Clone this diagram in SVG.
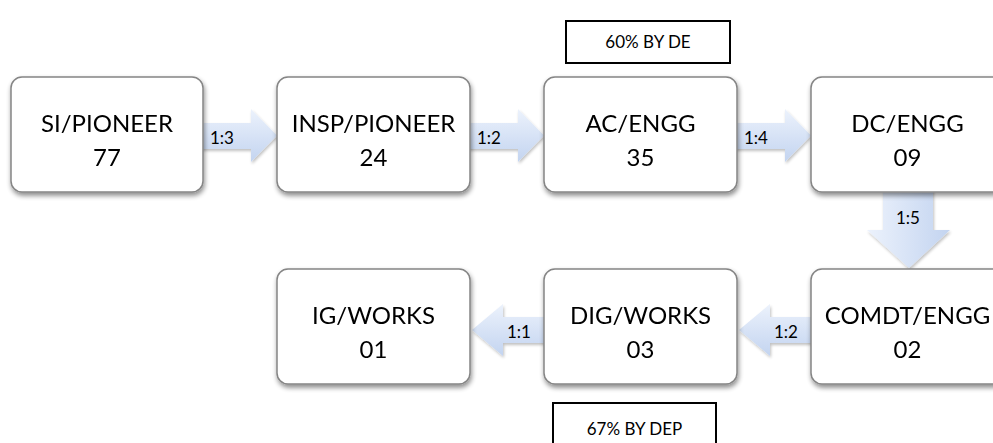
<svg xmlns="http://www.w3.org/2000/svg" width="993" height="443" viewBox="0 0 993 443">
  <style>
    .node rect { fill: #ffffff; stroke: #858585; stroke-width: 1.5; }
    .title { font-family: Lato, "Liberation Sans", sans-serif; font-size: 24px; fill: #000; text-anchor: middle; }
    .lbl { font-family: Lato, "Liberation Sans", sans-serif; font-size: 17px; fill: #000; text-anchor: middle; dominant-baseline: central; }
    .note rect { fill: #ffffff; stroke: #000; stroke-width: 2; }
    .note text { font-family: Lato, "Liberation Sans", sans-serif; font-size: 17px; fill: #000; text-anchor: middle; dominant-baseline: central; }
    .arrow { fill: url(#arrowFill); filter: url(#arrowShadow); }
  </style>
  <defs>
    <linearGradient id="arrowFill" x1="0" y1="0" x2="0" y2="1">
      <stop offset="0" stop-color="#ecf2fc"/>
      <stop offset="1" stop-color="#c3d4f0"/>
    </linearGradient>
    <linearGradient id="arrowFillV" x1="0" y1="0" x2="1" y2="0">
      <stop offset="0" stop-color="#ecf2fc"/>
      <stop offset="1" stop-color="#c3d4f0"/>
    </linearGradient>
    <filter id="boxShadow" x="-10%" y="-10%" width="130%" height="130%">
      <feGaussianBlur in="SourceAlpha" stdDeviation="2.5"/>
      <feOffset dx="1" dy="3" result="b"/>
      <feComponentTransfer><feFuncA type="linear" slope="0.45"/></feComponentTransfer>
      <feMerge><feMergeNode/><feMergeNode in="SourceGraphic"/></feMerge>
    </filter>
    <filter id="arrowShadow" x="-10%" y="-20%" width="130%" height="150%">
      <feGaussianBlur in="SourceAlpha" stdDeviation="1.5"/>
      <feOffset dx="1" dy="2" result="b"/>
      <feComponentTransfer><feFuncA type="linear" slope="0.25"/></feComponentTransfer>
      <feMerge><feMergeNode/><feMergeNode in="SourceGraphic"/></feMerge>
    </filter>
  </defs>

  <!-- connectors: block arrows with ratio labels -->
  <g id="connectors">
    <g id="c-si-insp">
      <path class="arrow" d="M196,123 H251 V109 L277,135.5 L251,162 V149 H196 Z"/>
      <text class="lbl" x="222" y="137">1:3</text>
    </g>
    <g id="c-insp-ac">
      <path class="arrow" d="M463,123 H518 V109 L544,135.5 L518,162 V149 H463 Z"/>
      <text class="lbl" x="489" y="137">1:2</text>
    </g>
    <g id="c-ac-dc">
      <path class="arrow" d="M730,123 H785 V109 L811,135.5 L785,162 V149 H730 Z"/>
      <text class="lbl" x="756" y="137">1:4</text>
    </g>
    <g id="c-dc-comdt">
      <path class="arrow" style="fill:url(#arrowFillV)" d="M883,185 H933 V230 H950 L909,268 L867,230 H883 Z"/>
      <text class="lbl" x="908" y="217">1:5</text>
    </g>
    <g id="c-comdt-dig">
      <path class="arrow" d="M818,317 H770 V304 L739,330 L770,356 V343 H818 Z"/>
      <text class="lbl" x="786" y="331">1:2</text>
    </g>
    <g id="c-dig-ig">
      <path class="arrow" d="M551,317 H503 V304 L472,330 L503,356 V343 H551 Z"/>
      <text class="lbl" x="519" y="331">1:1</text>
    </g>
  </g>

  <!-- nodes -->
  <g id="n-si" class="node" filter="url(#boxShadow)">
    <rect x="11" y="77" width="192" height="115" rx="11"/>
    <text class="title" x="107" y="132">SI/PIONEER</text>
    <text class="title" x="107" y="166">77</text>
  </g>
  <g id="n-insp" class="node" filter="url(#boxShadow)">
    <rect x="277" y="77" width="193" height="115" rx="11"/>
    <text class="title" x="373.5" y="132">INSP/PIONEER</text>
    <text class="title" x="373.5" y="166">24</text>
  </g>
  <g id="n-ac" class="node" filter="url(#boxShadow)">
    <rect x="544" y="77" width="193" height="115" rx="11"/>
    <text class="title" x="640.5" y="132">AC/ENGG</text>
    <text class="title" x="640.5" y="166">35</text>
  </g>
  <g id="n-dc" class="node" filter="url(#boxShadow)">
    <rect x="811" y="77" width="193" height="115" rx="11"/>
    <text class="title" x="907.5" y="132">DC/ENGG</text>
    <text class="title" x="907.5" y="166">09</text>
  </g>
  <g id="n-comdt" class="node" filter="url(#boxShadow)">
    <rect x="811" y="269" width="193" height="115" rx="11"/>
    <text class="title" x="907.5" y="324">COMDT/ENGG</text>
    <text class="title" x="907.5" y="358">02</text>
  </g>
  <g id="n-dig" class="node" filter="url(#boxShadow)">
    <rect x="544" y="269" width="193" height="115" rx="11"/>
    <text class="title" x="640.5" y="324">DIG/WORKS</text>
    <text class="title" x="640.5" y="358">03</text>
  </g>
  <g id="n-ig" class="node" filter="url(#boxShadow)">
    <rect x="277" y="269" width="193" height="115" rx="11"/>
    <text class="title" x="373.5" y="324">IG/WORKS</text>
    <text class="title" x="373.5" y="358">01</text>
  </g>

  <!-- promotion notes -->
  <g id="note-de" class="note">
    <rect x="566" y="21" width="164" height="42"/>
    <text x="648" y="41">60% BY DE</text>
  </g>
  <g id="note-dep" class="note">
    <rect x="553" y="403" width="163" height="50"/>
    <text x="634.5" y="428">67% BY DEP</text>
  </g>
</svg>
